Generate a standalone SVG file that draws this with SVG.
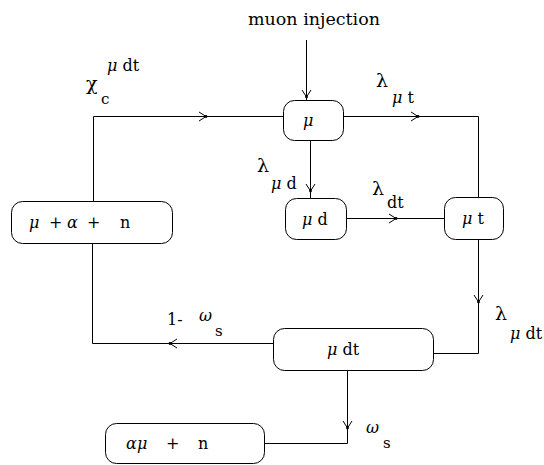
<svg xmlns="http://www.w3.org/2000/svg" width="544" height="465" viewBox="0 0 544 465" font-family="DejaVu Serif" font-size="16">
<style>
.box{fill:#fff;stroke:#000;stroke-width:1}
.ln{fill:none;stroke:#000;stroke-width:1}
.it{font-style:italic}
.sm{font-size:15px}
.gk{font-size:19px}
</style>
<defs>
<marker id="arr" viewBox="-9 -6 11 12" refX="0" refY="0" markerWidth="11" markerHeight="12" markerUnits="userSpaceOnUse" orient="auto" overflow="visible">
<path d="M-7,-4.5 L0,0 L-7,4.5" fill="none" stroke="#000" stroke-width="1"/>
<circle r="1.4" fill="#000"/>
</marker>
</defs>
<rect width="544" height="465" fill="#fff"/>
<g id="connectors">
<path class="ln" d="M306.5,40 L306.5,97" marker-end="url(#arr)"/>
<path class="ln" d="M306.5,97 L306.5,100"/>
<path class="ln" d="M93.5,201 L93.5,116.5 L206,116.5" marker-end="url(#arr)"/>
<path class="ln" d="M206,116.5 L283,116.5"/>
<path class="ln" d="M343,116.5 L418,116.5" marker-end="url(#arr)"/>
<path class="ln" d="M418,116.5 L478.5,116.5 L478.5,198"/>
<path class="ln" d="M310.5,141 L310.5,191" marker-end="url(#arr)"/>
<path class="ln" d="M310.5,191 L310.5,198"/>
<path class="ln" d="M347,218.5 L396,218.5" marker-end="url(#arr)"/>
<path class="ln" d="M396,218.5 L444,218.5"/>
<path class="ln" d="M478.5,239 L478.5,302" marker-end="url(#arr)"/>
<path class="ln" d="M478.5,302 L478.5,353.5 L434,353.5"/>
<path class="ln" d="M273,343.5 L170,343.5" marker-end="url(#arr)"/>
<path class="ln" d="M170,343.5 L92.5,343.5 L92.5,244"/>
<path class="ln" d="M347.5,371 L347.5,428" marker-end="url(#arr)"/>
<path class="ln" d="M347.5,428 L347.5,443.5 L265,443.5"/>
</g>
<g id="injection">
<text x="248" y="25" textLength="132" lengthAdjust="spacingAndGlyphs">muon injection</text>
</g>
<g id="node-mu">
<rect class="box" x="283.5" y="100.5" width="60" height="40" rx="11"/>
<text class="it" x="303" y="126">μ</text>
</g>
<g id="node-mud">
<rect class="box" x="285.5" y="198.5" width="61" height="41" rx="11"/>
<text x="302" y="225"><tspan class="it">μ</tspan> d</text>
</g>
<g id="node-mut">
<rect class="box" x="444.5" y="197.5" width="59" height="42" rx="11"/>
<text x="462" y="224"><tspan class="it">μ</tspan> t</text>
</g>
<g id="node-left">
<rect class="box" x="11.5" y="201.5" width="161" height="42" rx="11"/>
<text class="it" x="29" y="228">μ</text>
<text x="49" y="228">+</text>
<text class="it" x="67" y="228">α</text>
<text x="87" y="228">+</text>
<text x="120" y="228">n</text>
</g>
<g id="node-mudt">
<rect class="box" x="273.5" y="328.5" width="160" height="42" rx="11"/>
<text x="327" y="355"><tspan class="it">μ</tspan> dt</text>
</g>
<g id="node-bottom">
<rect class="box" x="105.5" y="423.5" width="159" height="40" rx="11"/>
<text class="it" x="126" y="449">α</text>
<text class="it" x="137" y="449">μ</text>
<text x="166" y="449">+</text>
<text x="198" y="449">n</text>
</g>
<g id="labels">
<text class="gk" x="86" y="90">χ</text>
<text class="sm" x="101" y="104">c</text>
<text x="107" y="71"><tspan class="it">μ</tspan> dt</text>
<text class="gk" x="376" y="87">λ</text>
<text x="392" y="103"><tspan class="it">μ</tspan> t</text>
<text class="gk" x="257" y="172">λ</text>
<text x="271" y="189"><tspan class="it">μ</tspan> d</text>
<text class="gk" x="372" y="195">λ</text>
<text x="387" y="208">dt</text>
<text class="gk" x="495" y="320">λ</text>
<text x="510" y="339"><tspan class="it">μ</tspan> dt</text>
<text x="167" y="325">1-</text>
<text class="it" x="199" y="321">ω</text>
<text class="sm" x="215" y="336">s</text>
<text class="it" x="366" y="433">ω</text>
<text class="sm" x="383" y="448">s</text>
</g>
</svg>
